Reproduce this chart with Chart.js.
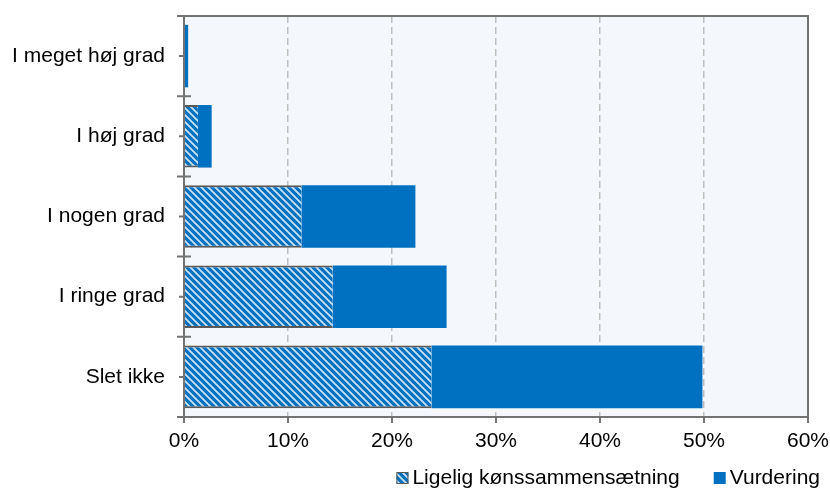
<!DOCTYPE html>
<html>
<head>
<meta charset="utf-8">
<script src="https://cdn.jsdelivr.net/npm/chart.js@4/dist/chart.umd.min.js"></script>
<style>
  html, body { margin: 0; padding: 0; background: #fff; }
  #wrap { width: 830px; height: 488px; }
</style>
</head>
<body>
<div id="wrap"><canvas id="barChart"></canvas></div>
<script>
const categories = ['I meget høj grad', 'I høj grad', 'I nogen grad', 'I ringe grad', 'Slet ikke'];
const seriesNames = ['Ligelig kønssammensætning', 'Vurdering'];
const ligelig = [0, 1.34, 11.3, 14.3, 23.8];
const vurdering = [0.4, 1.32, 10.95, 10.95, 26.05];
const xTicks = [0, 10, 20, 30, 40, 50, 60];

const FONT = 'Arial, "Liberation Sans", sans-serif';
const FS = 21;
const BLUE = '#0070C0';
const AXIS = '#737373';

// diagonal stripes like the Excel pattern fill
const hatchCanvas = (() => {
  const s = 7;
  const c = document.createElement('canvas');
  c.width = s; c.height = s;
  const g = c.getContext('2d');
  g.fillStyle = BLUE;
  g.fillRect(0, 0, s, s);
  g.strokeStyle = '#C9E4F7';
  g.lineWidth = 1.8;
  g.beginPath();
  for (let k = -1; k <= 1; k++) {
    g.moveTo(k * s - 1, -1);
    g.lineTo(k * s + s + 1, s + 1);
  }
  g.stroke();
  return c;
})();
const hatch = document.createElement('canvas').getContext('2d').createPattern(hatchCanvas, 'repeat');

const framePlugin = {
  id: 'frame',
  beforeDraw(chart) {
    const { ctx, chartArea: a } = chart;
    ctx.save();
    ctx.fillStyle = '#F4F8FC';
    ctx.fillRect(a.left, a.top, a.width, a.height);
    ctx.restore();
  },
  afterDraw(chart) {
    const { ctx, chartArea: a, scales } = chart;
    ctx.save();
    ctx.strokeStyle = AXIS;
    ctx.lineWidth = 2;
    ctx.strokeRect(a.left, a.top, a.width, a.height);

    ctx.beginPath();
    const step = a.height / categories.length;
    for (let i = 0; i <= categories.length; i++) {
      const y = a.top + i * step;
      ctx.moveTo(a.left - 7, y);
      ctx.lineTo(a.left + 7, y);
    }
    categories.forEach((c, i) => {
      const y = scales.y.getPixelForValue(i);
      ctx.moveTo(a.left - 5, y);
      ctx.lineTo(a.left, y);
    });
    xTicks.forEach(v => {
      const x = scales.x.getPixelForValue(v);
      ctx.moveTo(x, a.bottom);
      ctx.lineTo(x, a.bottom + 6);
    });
    ctx.stroke();

    // legend
    ctx.font = FS + 'px ' + FONT;
    ctx.textBaseline = 'alphabetic';
    const box = 12, gap = 4, itemGap = 34, right = 820, base = 484;
    const w0 = ctx.measureText(seriesNames[0]).width;
    const w1 = ctx.measureText(seriesNames[1]).width;
    let x = right - (box + gap + w0 + itemGap + box + gap + w1);
    ctx.fillStyle = hatch;
    ctx.fillRect(x, base - box, box, box);
    ctx.lineWidth = 1;
    ctx.strokeStyle = '#595959';
    ctx.strokeRect(x + 0.5, base - box + 0.5, box - 1, box - 1);
    ctx.fillStyle = '#000';
    ctx.fillText(seriesNames[0], x + box + gap, base);
    x += box + gap + w0 + itemGap;
    ctx.fillStyle = BLUE;
    ctx.fillRect(x, base - box, box, box);
    ctx.fillStyle = '#000';
    ctx.fillText(seriesNames[1], x + box + gap, base);
    ctx.restore();
  }
};

new Chart(document.getElementById('barChart'), {
  type: 'bar',
  data: {
    labels: categories,
    datasets: [{
      label: seriesNames[0],
      data: ligelig,
      backgroundColor: hatch,
      borderColor: '#595959',
      borderWidth: { top: 2, bottom: 2, left: 0, right: 0 },
      borderSkipped: false,
      barPercentage: 0.78,
      categoryPercentage: 1
    }, {
      label: seriesNames[1],
      data: vurdering,
      backgroundColor: BLUE,
      borderWidth: 0,
      barPercentage: 0.78,
      categoryPercentage: 1
    }]
  },
  options: {
    indexAxis: 'y',
    responsive: true,
    maintainAspectRatio: false,
    animation: false,
    layout: { padding: { top: 16, right: 22, bottom: 36, left: 0 } },
    plugins: {
      legend: { display: false },
      tooltip: { enabled: false }
    },
    scales: {
      x: {
        stacked: true,
        min: 0,
        max: 60,
        ticks: {
          stepSize: 10,
          padding: 12,
          color: '#000',
          font: { size: FS, family: FONT },
          callback: v => v + '%'
        },
        grid: {
          drawTicks: false,
          lineWidth: 1.5,
          color: c => (c.tick && (c.tick.value === 0 || c.tick.value === 60)) ? 'rgba(0,0,0,0)' : '#BFBFBF'
        },
        border: { display: false, dash: [7, 4] },
        afterFit: s => { s.height = 35; s.paddingLeft = 0; s.paddingRight = 0; }
      },
      y: {
        stacked: true,
        ticks: {
          padding: 19,
          color: '#000',
          font: { size: FS, family: FONT }
        },
        grid: { display: false, drawTicks: false },
        border: { display: false },
        afterFit: s => { s.width = 184; s.paddingTop = 0; s.paddingBottom = 0; }
      }
    }
  },
  plugins: [framePlugin]
});
</script>
</body>
</html>
